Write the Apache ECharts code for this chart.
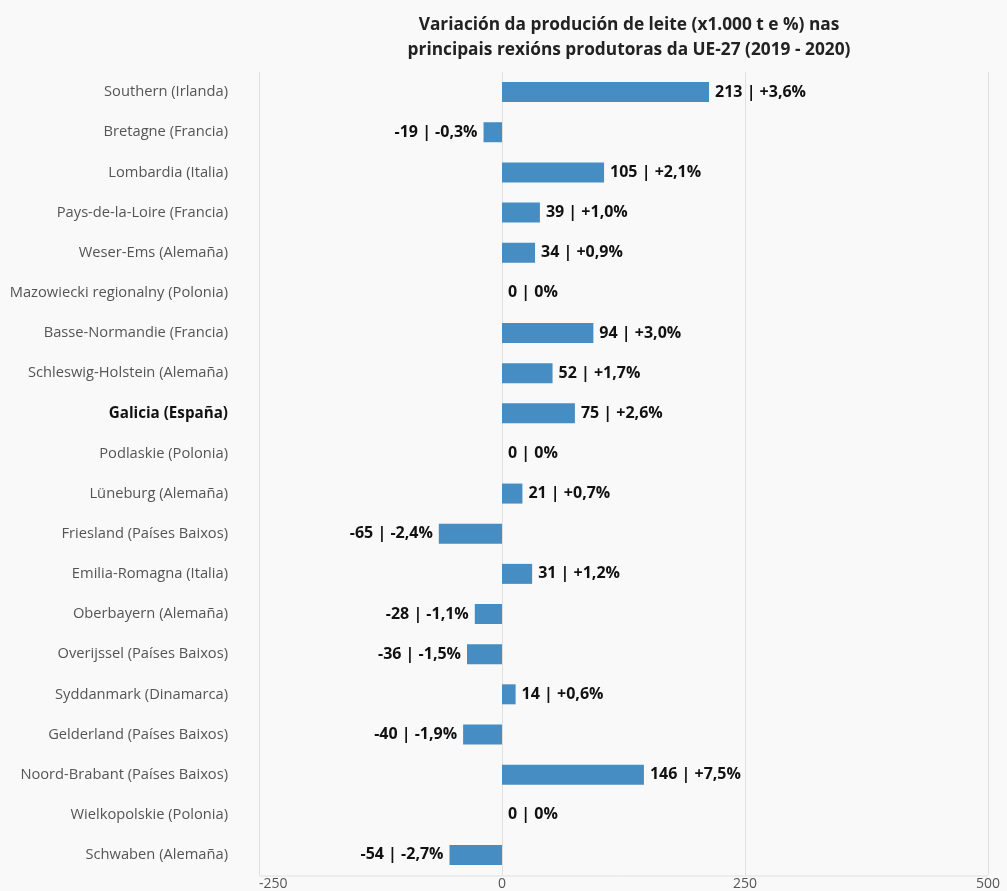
<!DOCTYPE html>
<html><head><meta charset="utf-8">
<script src="https://cdn.jsdelivr.net/npm/echarts@6/dist/echarts.min.js"></script>
<style>html,body{margin:0;padding:0;background:#f9f9f9}#c{width:1007px;height:891px}</style>
</head><body><div id="c"></div>
<script>
const categories = ["Southern (Irlanda)","Bretagne (Francia)","Lombardia (Italia)","Pays-de-la-Loire (Francia)","Weser-Ems (Alemaña)","Mazowiecki regionalny (Polonia)","Basse-Normandie (Francia)","Schleswig-Holstein (Alemaña)","Galicia (España)","Podlaskie (Polonia)","Lüneburg (Alemaña)","Friesland (Países Baixos)","Emilia-Romagna (Italia)","Oberbayern (Alemaña)","Overijssel (Países Baixos)","Syddanmark (Dinamarca)","Gelderland (Países Baixos)","Noord-Brabant (Países Baixos)","Wielkopolskie (Polonia)","Schwaben (Alemaña)"];
const values = [213,-19,105,39,34,0,94,52,75,0,21,-65,31,-28,-36,14,-40,146,0,-54];
const percents = ["+3,6%","-0,3%","+2,1%","+1,0%","+0,9%","0%","+3,0%","+1,7%","+2,6%","0%","+0,7%","-2,4%","+1,2%","-1,1%","-1,5%","+0,6%","-1,9%","+7,5%","0%","-2,7%"];
const xTicks = [-250,0,250,500];
const highlight = "Galicia (España)";

const chart = echarts.init(document.getElementById('c'));
chart.setOption({
  backgroundColor:'#f9f9f9',
  animation:false,
  title:{
    text:'Variación da produción de leite (x1.000 t e %) nas\nprincipais rexións produtoras da UE-27 (2019 - 2020)',
    left:624, top:8, textAlign:'center',
    textStyle:{fontFamily:'Open Sans',fontSize:17.3,fontWeight:'bold',color:'#222',lineHeight:25}
  },
  grid:{left:259,right:19,top:72,bottom:15,containLabel:false},
  xAxis:{
    type:'value',min:xTicks[0],max:xTicks[xTicks.length-1],interval:250,
    axisLine:{show:false},axisTick:{show:false},
    splitLine:{show:true,lineStyle:{color:'#e0e0e0',width:1}},
    axisLabel:{fontFamily:'Open Sans',fontSize:14,color:'#555',margin:2,alignMinLabel:'left'}
  },
  yAxis:{
    type:'category',data:categories,inverse:true,
    axisLine:{show:false},axisTick:{show:false},
    axisLabel:{fontFamily:'Open Sans',fontSize:14.7,color:'#555',margin:31,
      formatter:function(v){return v===highlight?'{b|'+v+'}':v;},
      rich:{b:{fontFamily:'Open Sans',fontSize:15.2,fontWeight:'bold',color:'#111'}}}
  },
  series:[{
    type:'bar',barWidth:20,
    data:values.map(function(v,i){return {value:v,label:{position:v<0?'left':'right'}};}),
    itemStyle:{color:'#458dc2'},
    label:{show:true,distance:6,fontFamily:'Open Sans',fontSize:16,fontWeight:'bold',color:'#111',
      formatter:function(p){return values[p.dataIndex]+' | '+percents[p.dataIndex];}}
  }],
  graphic:[{type:'line',shape:{x1:259,y1:876,x2:988,y2:876},style:{stroke:'#e0e0e0',lineWidth:1}}]
});
</script></body></html>
